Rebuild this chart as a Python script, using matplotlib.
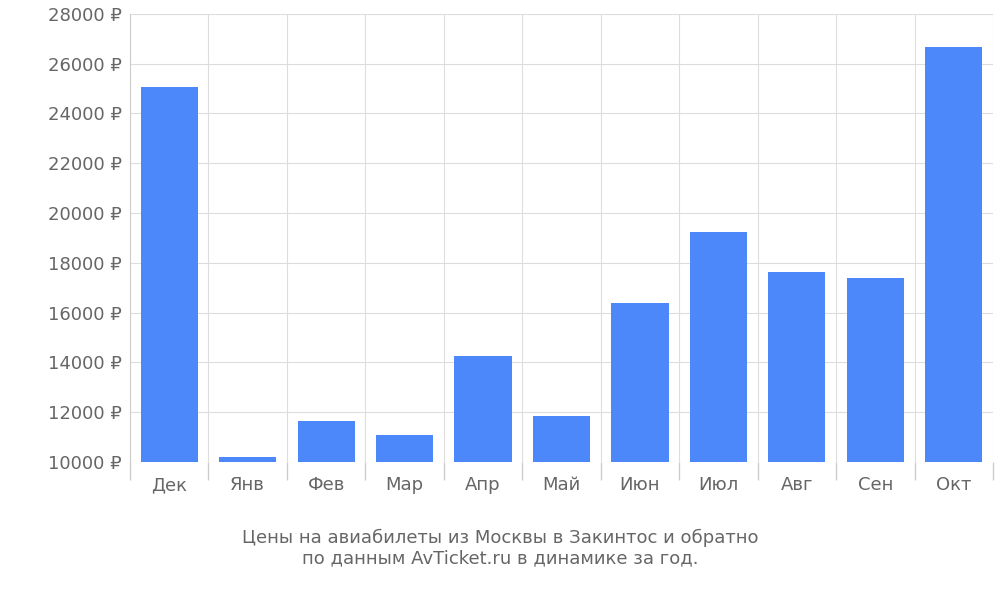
import matplotlib
matplotlib.use("Agg")
import matplotlib.pyplot as plt
import numpy as np

months = ["Дек", "Янв", "Фев", "Мар", "Апр", "Май", "Июн", "Июл", "Авг", "Сен", "Окт"]
prices = [25050, 10200, 11650, 11100, 14250, 11850, 16400, 19250, 17650, 17400, 26650]
yticks = list(range(10000, 28001, 2000))

fig = plt.figure(figsize=(10, 6), dpi=100)
ax = fig.add_axes([0.13, 0.23, 0.863, 0.747])
x = np.arange(len(months))
ax.bar(x, [p - 10000 for p in prices], bottom=10000, width=0.73, color="#4d88fb", zorder=3)
ax.set_xlim(-0.5, len(months) - 0.5)
ax.set_ylim(10000, 28000)
ax.set_yticks(yticks)
ax.set_yticklabels([f"{v} ₽" for v in yticks])
ax.set_xticks(x)
ax.set_xticklabels(months)
ax.set_xticks(np.arange(-0.5, len(months)), minor=True)
ax.tick_params(axis="x", which="major", length=0, pad=10, labelsize=13, colors="#666666")
ax.tick_params(axis="x", which="minor", length=13, color="#cccccc", width=1)
ax.tick_params(axis="y", length=0, pad=6, labelsize=13, colors="#666666")
ax.grid(True, axis="y", color="#dddddd", zorder=0)
ax.grid(True, axis="x", which="minor", color="#dddddd", zorder=0)
for s in ["top", "right", "bottom"]:
    ax.spines[s].set_visible(False)
ax.spines["left"].set_color("#cccccc")
fig.text(0.5, 0.087, "Цены на авиабилеты из Москвы в Закинтос и обратно\nпо данным AvTicket.ru в динамике за год.",
         ha="center", va="center", fontsize=13, color="#666666", linespacing=1.2)
fig.savefig("out.png", dpi=100)
